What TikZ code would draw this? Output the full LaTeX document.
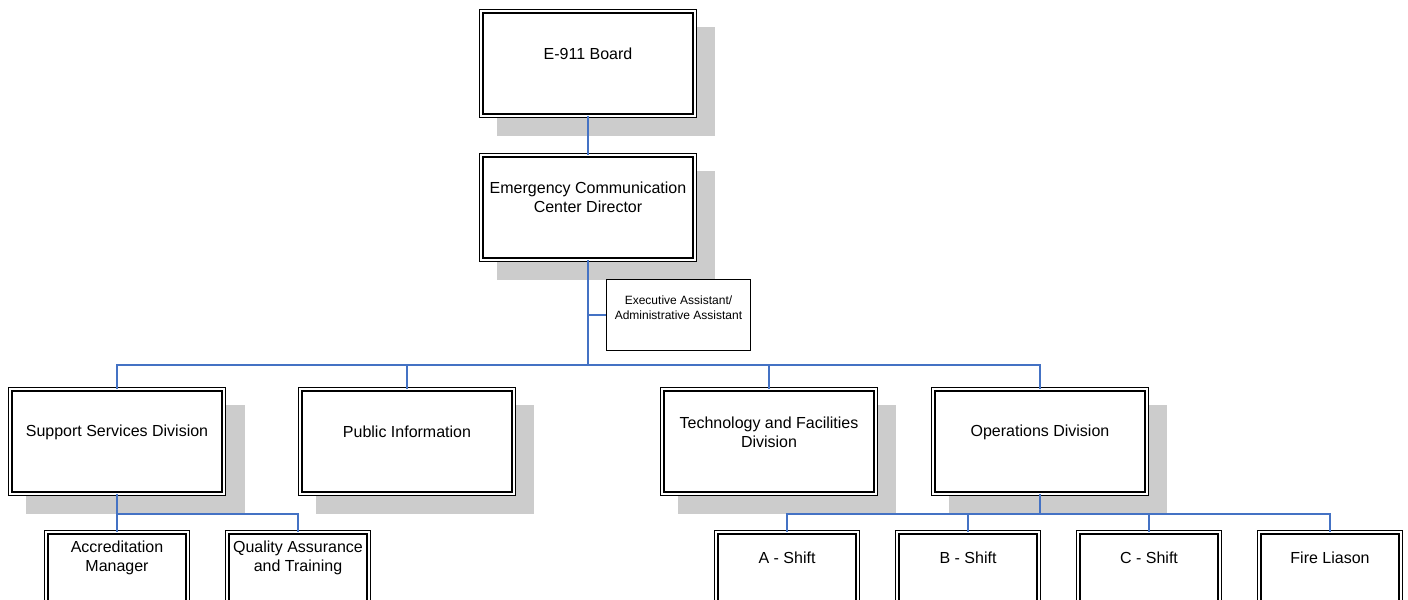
\documentclass[tikz,border=0pt]{standalone}
\usepackage{fontspec}
\setmainfont{Liberation Sans}
\definecolor{shadowgray}{RGB}{204,204,204}
\definecolor{connblue}{RGB}{68,114,196}
\begin{document}
\begin{tikzpicture}[x=0.75pt,y=-0.75pt,
  bigbox/.style={draw, double, double distance=1.4pt, line width=1.1pt, fill=white,
    minimum width=159.9pt, minimum height=78.15pt, inner sep=0pt},
  smallbox/.style={bigbox, minimum width=105.9pt},
  singlebox/.style={draw, line width=1.1pt, fill=white, minimum width=107.9pt, minimum height=53.2pt, inner sep=0pt},
  conn/.style={draw=connblue, line width=1.1pt},
  shadow/.style={fill=shadowgray},
  txt/.style={font=\fontsize{12}{14.3}\selectfont, align=center, inner sep=0pt},
  smalltxt/.style={font=\fontsize{9}{11.2}\selectfont, align=center, inner sep=0pt}]
\useasboundingbox (0,0) rectangle (1408,599);
\clip (0,0) rectangle (1408,599);
% shadows
\fill[shadow] (497,27) rectangle (715,136);
\fill[shadow] (497,171) rectangle (715,280);
\fill[shadow] (26,405) rectangle (245,514);
\fill[shadow] (316,405) rectangle (534,514);
\fill[shadow] (678,405) rectangle (896,514);
\fill[shadow] (949,405) rectangle (1167,514);
% boxes
\node[bigbox] (board) at (588,63.5) {};
\node[bigbox] (dir) at (588,207.5) {};
\node[singlebox] (exec) at (678.5,315) {};
\node[bigbox] (support) at (117,441.5) {};
\node[bigbox] (pub) at (407,441.5) {};
\node[bigbox] (tech) at (769,441.5) {};
\node[bigbox] (ops) at (1040,441.5) {};
\node[smallbox] (acc) at (117,584.5) {};
\node[smallbox] (qa) at (298,584.5) {};
\node[smallbox] (ash) at (787,584.5) {};
\node[smallbox] (bsh) at (968,584.5) {};
\node[smallbox] (csh) at (1149,584.5) {};
\node[smallbox] (fire) at (1330,584.5) {};
% texts
\node[txt] (tboard) at (588,54) {E-911 Board};
\node[txt] (tdir) at (588,197.5) {Emergency Communication\\Center Director};
\node[smalltxt] (texec) at (678.5,308) {Executive Assistant/\\Administrative Assistant};
\node[txt] (tsupport) at (117,432) {Support Services Division};
\node[txt] (tpub) at (407,432) {Public Information};
\node[txt] (ttech) at (769,432) {Technology and Facilities\\Division};
\node[txt] (tops) at (1040,432) {Operations Division};
\node[txt] (tacc) at (117,557.5) {Accreditation\\Manager};
\node[txt] (tqa) at (298,557.5) {Quality Assurance\\and Training};
\node[txt] (tash) at (787,558) {A - Shift};
\node[txt] (tbsh) at (968,558) {B - Shift};
\node[txt] (tcsh) at (1149,558) {C - Shift};
\node[txt] (tfire) at (1330,558) {Fire Liason};
% connectors
\coordinate (hub) at (588,365);
\coordinate (shub) at (117,514);
\coordinate (ohub) at (1040,514);
\draw[conn] (board.south) -- (dir.north);
\draw[conn] (dir.south) -- (hub);
\draw[conn] (exec.west -| hub) -- (exec.west);
\draw[conn] (support.north) |- (hub) -| (ops.north);
\draw[conn] (pub.north) -- (pub.north |- hub);
\draw[conn] (tech.north) -- (tech.north |- hub);
\draw[conn] (support.south) -- (shub);
\draw[conn] (acc.north) |- (shub) -| (qa.north);
\draw[conn] (ops.south) -- (ohub);
\draw[conn] (ash.north) |- (ohub) -| (fire.north);
\draw[conn] (bsh.north) -- (bsh.north |- ohub);
\draw[conn] (csh.north) -- (csh.north |- ohub);
\end{tikzpicture}
\end{document}
